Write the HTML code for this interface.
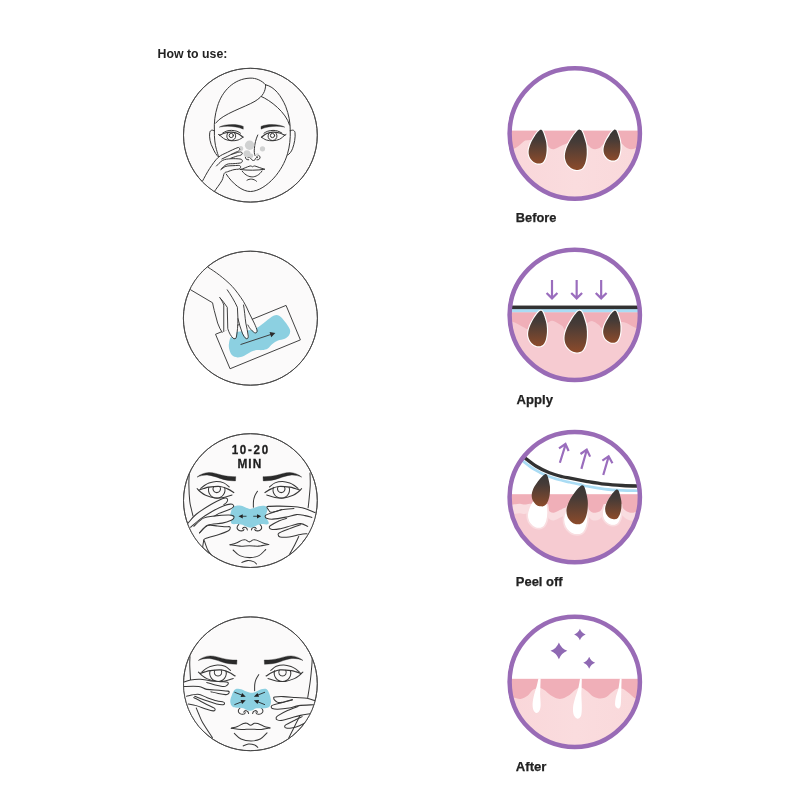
<!DOCTYPE html>
<html lang="en">
<head>
<meta charset="utf-8">
<title>How to use</title>
<style>
html,body{margin:0;padding:0;background:#fff;}
body{width:800px;height:800px;overflow:hidden;font-family:"Liberation Sans",sans-serif;}
svg{display:block;will-change:transform;}
.lbl{font-family:"Liberation Sans",sans-serif;font-weight:bold;font-size:13px;fill:#222;}
.lb2{font-size:13.5px;stroke:#222;stroke-width:0.25px;}
.ln{fill:none;stroke:#3a3a3a;stroke-width:5.5;stroke-linecap:round;stroke-linejoin:round;}
.lnf{fill:#fbfafa;stroke:#3a3a3a;stroke-width:5.5;stroke-linecap:round;stroke-linejoin:round;}
.l8{fill:none;stroke:#383838;stroke-width:8.2;stroke-linecap:round;stroke-linejoin:round;}
.blk{fill:#2b2b2b !important;stroke:none !important;}
.ring{fill:#fff;stroke:#9a6dbd;stroke-width:27;}
.pur{fill:none;stroke:#9a6dbd;stroke-width:9;stroke-linecap:butt;stroke-linejoin:miter;}
.pore{fill:url(#poreg);stroke:#fff;stroke-width:13;paint-order:stroke;stroke-linejoin:round;}
</style>
</head>
<body>
<svg width="800" height="800" viewBox="0 0 800 800">
<defs>
<linearGradient id="poreg" x1="0" y1="0" x2="0" y2="1">
<stop offset="0" stop-color="#373636"/>
<stop offset="0.3" stop-color="#453b37"/>
<stop offset="1" stop-color="#8c4b2b"/>
</linearGradient>
<linearGradient id="derm" x1="0" y1="0" x2="1" y2="0">
<stop offset="0" stop-color="#f9d6d9"/>
<stop offset="0.5" stop-color="#fadcde"/>
<stop offset="1" stop-color="#f9d8da"/>
</linearGradient>
<clipPath id="cR1"><circle cx="398.6" cy="397.1" r="372.3"/></clipPath>
<clipPath id="cR2"><circle cx="398.6" cy="399.4" r="372.3"/></clipPath>
<clipPath id="cR3"><circle cx="398.6" cy="400.6" r="372.3"/></clipPath>
<clipPath id="cR4"><circle cx="398.6" cy="399.4" r="372.3"/></clipPath>
<clipPath id="cL1"><circle cx="402.3" cy="401.1" r="382.3"/></clipPath>
<clipPath id="cL2"><circle cx="402.3" cy="401.1" r="382.9"/></clipPath>
<clipPath id="cL3"><circle cx="402.3" cy="403.4" r="382.3"/></clipPath>
<clipPath id="cL4"><circle cx="402.3" cy="398.9" r="382.3"/></clipPath>
<clipPath id="cL1r"><circle cx="250.40" cy="135.20" r="66.90"/></clipPath>
<clipPath id="cL3r"><circle cx="250.40" cy="500.60" r="66.90"/></clipPath>
<clipPath id="cL4r"><circle cx="250.40" cy="683.80" r="66.90"/></clipPath>
<clipPath id="belowskin"><rect x="-20" y="440" width="840" height="400"/></clipPath>
</defs>
<rect width="800" height="800" fill="#fff"/>

<text class="lbl" x="157.6" y="58.3" textLength="69.8" lengthAdjust="spacingAndGlyphs">How to use:</text>
<text class="lbl lb2" x="515.8" y="222.0" textLength="40.6" lengthAdjust="spacingAndGlyphs">Before</text>
<text class="lbl lb2" x="516.6" y="403.7" textLength="36.4" lengthAdjust="spacingAndGlyphs">Apply</text>
<text class="lbl lb2" x="515.8" y="585.6" textLength="46.8" lengthAdjust="spacingAndGlyphs">Peel off</text>
<text class="lbl lb2" x="515.8" y="770.6" textLength="30.6" lengthAdjust="spacingAndGlyphs">After</text>

<!-- ============ LEFT 1 ============ -->
<g id="L1" transform="translate(180,65) scale(0.175)">
<circle cx="402.3" cy="401.1" r="382.3" fill="#fbfafa" stroke="#484848" stroke-width="5.4"/>
</g>
<!--L1b:S-->
<g clip-path="url(#cL1r)">
<g transform="translate(200,60) scale(0.125)">
<path class="l8" style="stroke-width:8;stroke:#363636" d="M115,565 C112,500 118,440 140,370 C175,250 270,150 400,145 C450,143 495,165 525,198"/>
<path class="l8" style="stroke-width:8;stroke:#363636" d="M525,198 C525,250 505,290 440,330 C360,378 180,430 125,505"/>
<path class="l8" style="stroke-width:8;stroke:#363636" d="M525,198 C600,215 650,290 685,370 C712,440 722,500 722,565"/>
<path class="l8" style="stroke-width:8;stroke:#363636" d="M490,292 C560,320 690,420 716,520"/>
</g>
<g transform="translate(200,110) scale(0.125)">
<path class="l8" style="stroke-width:8;stroke:#363636" d="M115,165 C113,220 120,280 132,318 C138,340 144,360 149,372"/>
<path class="l8" style="stroke-width:8;stroke:#363636" d="M722,165 C724,230 718,290 700,350 C680,420 640,490 590,545 C540,600 470,650 405,652 C340,654 260,590 210,513"/>
<path class="l8" style="stroke-width:8;stroke:#363636" d="M115,168 C100,155 82,160 78,180 C72,215 82,270 103,305 C115,335 132,362 149,377"/>
<path class="l8" style="stroke-width:8;stroke:#363636" d="M722,168 C738,155 756,160 760,180 C765,215 755,270 740,310 C730,335 716,352 702,360"/>
<path class="blk" transform="translate(0,3)" style="stroke:#2b2b2b !important;stroke-width:3 !important;stroke-linejoin:round" d="M154,134 C195,110 290,104 346,128 L346,150 C290,126 210,122 154,134 Z"/>
<path class="blk" transform="translate(0,3)" style="stroke:#2b2b2b !important;stroke-width:3 !important;stroke-linejoin:round" d="M678,134 C637,110 545,104 488,128 L488,150 C545,126 622,122 678,134 Z"/>
<g transform="translate(0,6)">
<path class="l8" style="stroke-width:8;stroke:#363636;stroke-width:10" d="M158.0,196.0 C165.0,193.0 184.3,182.2 200.0,178.0 C215.7,173.8 234.5,170.0 252.0,171.0 C269.5,172.0 289.7,177.2 305.0,184.0 C320.3,190.8 337.5,207.3 344.0,212.0"/>
<path class="l8" style="stroke-width:8;stroke:#363636" d="M158.0,196.0 C165.0,201.3 184.3,220.7 200.0,228.0 C215.7,235.3 234.5,239.0 252.0,240.0 C269.5,241.0 289.7,238.7 305.0,234.0 C320.3,229.3 337.5,215.7 344.0,212.0"/>
<path class="l8" style="stroke-width:8;stroke:#363636" d="M182.0,178.0 C187.5,175.3 203.3,165.5 215.0,162.0 C226.7,158.5 238.7,156.7 252.0,157.0 C265.3,157.3 283.0,160.2 295.0,164.0 C307.0,167.8 319.2,177.3 324.0,180.0"/>
<path class="l8" style="stroke-width:8;stroke:#363636" d="M158.0,196.0 L148.0,190.0"/>
<path class="l8" style="stroke-width:8;stroke:#363636" d="M275,176 A36,36 0 1 1 225,176"/>
<circle class="l8" style="stroke-width:8;stroke:#363636" cx="250" cy="198" r="17"/>
<path class="l8" style="stroke-width:8;stroke:#363636;stroke-width:10" d="M678.0,196.0 C671.0,193.0 651.7,182.2 636.0,178.0 C620.3,173.8 601.5,170.0 584.0,171.0 C566.5,172.0 546.3,177.2 531.0,184.0 C515.7,190.8 498.5,207.3 492.0,212.0"/>
<path class="l8" style="stroke-width:8;stroke:#363636" d="M678.0,196.0 C671.0,201.3 651.7,220.7 636.0,228.0 C620.3,235.3 601.5,239.0 584.0,240.0 C566.5,241.0 546.3,238.7 531.0,234.0 C515.7,229.3 498.5,215.7 492.0,212.0"/>
<path class="l8" style="stroke-width:8;stroke:#363636" d="M654.0,178.0 C648.5,175.3 632.7,165.5 621.0,162.0 C609.3,158.5 597.3,156.7 584.0,157.0 C570.7,157.3 553.0,160.2 541.0,164.0 C529.0,167.8 516.8,177.3 512.0,180.0"/>
<path class="l8" style="stroke-width:8;stroke:#363636" d="M678.0,196.0 L688.0,190.0"/>
<path class="l8" style="stroke-width:8;stroke:#363636" d="M605,176 A36,36 0 1 1 555,176"/>
<circle class="l8" style="stroke-width:8;stroke:#363636" cx="580" cy="198" r="17"/>
</g>
<path class="l8" style="stroke-width:8;stroke:#363636" d="M462,200 C446,235 438,270 435,310 C433,335 434,350 440,364"/>
<path class="l8" style="stroke-width:8;stroke:#363636" d="M384.0,382.0 C384.7,380.0 389.0,373.0 388.0,370.0 C387.0,367.0 381.7,364.0 378.0,364.0 C374.3,364.0 368.3,366.7 366.0,370.0 C363.7,373.3 362.7,379.7 364.0,384.0 C365.3,388.3 369.7,393.7 374.0,396.0 C378.3,398.3 387.3,397.7 390.0,398.0"/>
<path class="l8" style="stroke-width:8;stroke:#363636" d="M396.0,380.0 C398.0,381.3 404.7,384.7 408.0,388.0 C411.3,391.3 412.7,397.3 416.0,400.0 C419.3,402.7 424.0,404.3 428.0,404.0 C432.0,403.7 437.0,401.0 440.0,398.0 C443.0,395.0 443.7,389.3 446.0,386.0 C448.3,382.7 452.7,379.3 454.0,378.0"/>
<path class="l8" style="stroke-width:8;stroke:#363636" d="M460.0,382.0 C459.3,380.0 455.0,373.0 456.0,370.0 C457.0,367.0 462.3,364.0 466.0,364.0 C469.7,364.0 475.7,366.7 478.0,370.0 C480.3,373.3 481.3,379.7 480.0,384.0 C478.7,388.3 474.0,393.7 470.0,396.0 C466.0,398.3 458.3,397.7 456.0,398.0"/>
<path class="l8" style="stroke-width:8;stroke:#363636" d="M322,476 C350,470 375,455 400,448 C410,446 414,452 420,454 C426,452 432,446 440,448 C465,455 490,468 516,474"/>
<path class="l8" style="stroke-width:8;stroke:#363636" d="M322,476 C380,484 460,484 516,474"/>
<path class="l8" style="stroke-width:8;stroke:#363636" d="M338,490 C365,525 395,535 418,535 C445,535 475,520 496,488"/>
<path class="l8" style="stroke-width:8;stroke:#363636" d="M376,562 C395,548 430,548 452,570"/>
</g>
<g transform="translate(200,110) scale(0.125)" fill="#d0d1d1"><circle cx="397" cy="282" r="38"/><circle cx="326" cy="308" r="20"/><circle cx="376" cy="350" r="28"/><circle cx="408" cy="366" r="18"/><circle cx="500" cy="310" r="21"/><circle cx="460" cy="356" r="11"/></g>
<g transform="translate(200,110) scale(0.125)">
<path style="fill:#fbfafa;stroke:none" d="M22,565 L77,468 L145,380 L220,338 L298,302 L314,305 L318,321 L337,341 L334,354 L310,372 L340,406 L331,422 L318,445 L324,458 L314,471 L272,477 L220,494 L194,507 L175,565 L116,650 L0,700 Z"/>
<path class="l8" style="stroke-width:8;stroke:#363636" d="M22.0,565.0 C31.2,548.8 56.5,498.8 77.0,468.0 C97.5,437.2 121.2,401.7 145.0,380.0 C168.8,358.3 194.8,350.8 220.0,338.0 C245.2,325.2 280.7,308.8 296.0,303.0 C311.3,297.2 308.3,300.8 312.0,303.0 C315.7,305.2 318.7,311.8 318.0,316.0 C317.3,320.2 313.5,324.3 308.0,328.0 C302.5,331.7 297.5,332.0 285.0,338.0 C272.5,344.0 251.3,355.0 233.0,364.0 C214.7,373.0 184.7,387.3 175.0,392.0"/>
<path class="l8" style="stroke-width:8;stroke:#363636" d="M250.0,356.0 C258.3,353.3 287.3,343.3 300.0,340.0 C312.7,336.7 319.7,335.3 326.0,336.0 C332.3,336.7 336.7,340.7 338.0,344.0 C339.3,347.3 337.3,352.7 334.0,356.0 C330.7,359.3 324.0,362.0 318.0,364.0 C312.0,366.0 310.0,364.3 298.0,368.0 C286.0,371.7 254.7,383.0 246.0,386.0"/>
<path class="l8" style="stroke-width:8;stroke:#363636" d="M132.0,448.0 C140.2,440.5 162.0,412.7 181.0,403.0 C200.0,393.3 222.8,391.8 246.0,390.0 C269.2,388.2 304.7,390.0 320.0,392.0 C335.3,394.0 335.3,398.0 338.0,402.0 C340.7,406.0 338.7,412.3 336.0,416.0 C333.3,419.7 332.7,421.8 322.0,424.0 C311.3,426.2 290.0,427.2 272.0,429.0 C254.0,430.8 231.3,427.5 214.0,435.0 C196.7,442.5 175.7,467.5 168.0,474.0"/>
<path class="l8" style="stroke-width:8;stroke:#363636" d="M168.0,477.0 C174.5,472.7 189.7,456.3 207.0,451.0 C224.3,445.7 254.2,446.2 272.0,445.0 C289.8,443.8 305.2,442.5 314.0,444.0 C322.8,445.5 324.0,450.0 325.0,454.0 C326.0,458.0 323.3,464.7 320.0,468.0 C316.7,471.3 313.0,472.5 305.0,474.0 C297.0,475.5 286.2,473.7 272.0,477.0 C257.8,480.3 233.0,489.0 220.0,494.0 C207.0,499.0 201.5,495.2 194.0,507.0 C186.5,518.8 188.0,541.2 175.0,565.0 C162.0,588.8 125.8,635.8 116.0,650.0"/>
</g>
</g>
<circle cx="250.4" cy="135.2" r="66.9" fill="none" stroke="#484848" stroke-width="0.95"/>
<!--L1b:E-->
<!-- ============ LEFT 2 ============ -->
<g id="L2" transform="translate(180,248) scale(0.175)">
<circle cx="402.3" cy="401.1" r="382.9" fill="#fbfafa" stroke="#484848" stroke-width="5.4"/>
<g clip-path="url(#cL2)">
<path d="M203,493 L606,328 L688,525 L286,690 Z" fill="#fbfafa" stroke="#3a3a3a" stroke-width="5.5" stroke-linejoin="miter"/>
<path fill="#8cd0e1" d="M437.9,457.8 C454.0,449.2 473.2,431.1 489.3,419.3 C505.4,407.5 521.4,392.5 534.3,387.1 C547.1,381.7 555.7,381.7 566.4,387.1 C577.1,392.5 588.4,406.4 598.6,419.3 C608.8,432.2 623.2,451.5 627.5,464.3 C631.8,477.1 629.1,487.3 624.3,496.4 C619.5,505.5 609.3,513.5 598.6,518.9 C587.9,524.3 571.8,523.8 560.0,528.6 C548.2,533.4 537.5,540.4 527.9,547.9 C518.2,555.4 511.8,567.7 502.1,573.6 C492.5,579.5 480.7,581.6 470.0,583.2 C459.3,584.8 448.6,581.6 437.9,583.2 C427.2,584.8 417.5,587.5 405.7,592.9 C393.9,598.3 380.0,610.0 367.1,615.4 C354.2,620.8 340.4,625.5 328.6,625.0 C316.8,624.5 304.4,620.7 296.4,612.1 C288.4,603.5 283.1,585.4 280.4,573.6 C277.7,561.8 278.8,552.1 280.4,541.4 C282.0,530.7 284.1,518.9 290.0,509.3 C295.9,499.7 298.6,490.0 315.7,483.6 C332.8,477.2 372.5,475.0 392.9,470.7 C413.3,466.4 421.8,466.4 437.9,457.8 Z"/>
<path class="ln" stroke-width="5" d="M348,551 L520,494"/>
<path class="blk" d="M545,485 L512,480 L521,510 Z"/>
<path fill="#fbfafa" stroke="none" d="M61,239 L186,313 L196,358 L215,429 L241,482 L250,476 L270,470 L300,515 L318,516 L331,420 L360,490 L380,519 L392,506 L384,440 L427,485 L440,477 L395,371 L363,306 L337,265 L241,165 L160,110 L40,180 Z"/>
<path class="ln" d="M160,110 C200,135 250,170 299,220 C320,243 345,278 363,306 C375,325 385,348 395,371 L424,429 C432,446 440,465 441,474 C441,484 432,488 426,484 C415,476 400,465 388,440"/>
<path class="ln" d="M61,239 L186,313 C190,330 192,345 196,358 C202,382 208,405 215,429 C222,450 232,468 241,482"/>
<path class="ln" d="M228,284 C238,298 246,312 250,326 L250,476"/>
<path class="ln" d="M228,284 C242,300 258,320 270,339 L273,461 C280,485 292,505 303,515 C310,521 320,520 322,510 C328,480 331,440 331,403 L328,339 C310,300 290,268 270,239"/>
<path class="ln" d="M331,403 C338,432 346,460 356,486 C362,500 370,514 378,518 C386,521 391,514 390,504 C387,478 381,452 376,429 C372,400 368,350 363,326"/>
</g>

<circle id="L2ring" cx="402.3" cy="401.1" r="382.9" fill="none" stroke="#484848" stroke-width="5.4"/>
</g>

<!-- ============ LEFT 3 ============ -->
<g id="L3" transform="translate(180,430) scale(0.175)">
<circle cx="402.3" cy="403.4" r="382.3" fill="#fbfafa" stroke="#484848" stroke-width="5.4"/>
<!--L3:S-->
</g>
<g clip-path="url(#cL3r)">
<g transform="translate(180,450) scale(0.125)">
<path class="l8"  d="M74.0,185.0 C73.5,200.8 70.3,242.5 71.0,280.0 C71.7,317.5 74.8,378.3 78.0,410.0 C81.2,441.7 85.7,450.5 90.0,470.0 C94.3,489.5 101.7,517.5 104.0,527.0"/>
<path class="l8"  d="M190.0,712.0 C195.3,726.7 210.0,776.0 222.0,800.0 C234.0,824.0 255.3,846.7 262.0,856.0"/>
<path class="l8"  d="M1040.0,185.0 C1040.3,200.8 1043.3,244.2 1042.0,280.0 C1040.7,315.8 1034.8,369.7 1032.0,400.0 C1029.2,430.3 1026.2,451.7 1025.0,462.0"/>
<path class="blk" style="stroke:#2b2b2b !important;stroke-width:3 !important;stroke-linejoin:round" d="M136,217 C160,196 195,181 232,180 C270,180 300,192 330,200 C370,210 410,214 446,213 L444,247 C405,247 360,241 320,227 C285,214 255,204 225,201 C190,199 160,206 136,217 Z"/>
<g transform="translate(1110,0) scale(-1,1)"><path class="blk" style="stroke:#2b2b2b !important;stroke-width:3 !important;stroke-linejoin:round" d="M136,217 C160,196 195,181 232,180 C270,180 300,192 330,200 C370,210 410,214 446,213 L444,247 C405,247 360,241 320,227 C285,214 255,204 225,201 C190,199 160,206 136,217 Z"/></g>
<path class="l8" d="M166.0,308.0 C170.8,304.0 184.0,291.3 195.0,284.0 C206.0,276.7 216.2,269.3 232.0,264.0 C247.8,258.7 270.3,252.2 290.0,252.0 C309.7,251.8 332.7,255.7 350.0,263.0 C367.3,270.3 386.7,290.5 394.0,296.0"/>
<path class="l8" style="stroke-width:10" d="M152.0,320.0 C158.3,318.0 176.7,311.8 190.0,308.0 C203.3,304.2 210.3,299.7 232.0,297.0 C253.7,294.3 295.3,289.7 320.0,292.0 C344.7,294.3 361.7,303.0 380.0,311.0 C398.3,319.0 421.7,335.2 430.0,340.0"/>
<path class="l8" d="M137.0,309.0 C141.7,313.5 153.7,327.2 165.0,336.0 C176.3,344.8 186.2,354.0 205.0,362.0 C223.8,370.0 253.8,381.0 278.0,384.0 C302.2,387.0 327.0,384.0 350.0,380.0 C373.0,376.0 405.0,363.3 416.0,360.0"/>
<path class="l8" d="M231,299 A66,66 0 1 0 357,299"/>
<path class="l8" d="M268,296 A30,30 0 1 0 320,296"/>
<path class="l8" d="M944.0,308.0 C939.2,304.0 926.0,291.3 915.0,284.0 C904.0,276.7 893.8,269.3 878.0,264.0 C862.2,258.7 839.7,252.2 820.0,252.0 C800.3,251.8 777.3,255.7 760.0,263.0 C742.7,270.3 723.3,290.5 716.0,296.0"/>
<path class="l8" style="stroke-width:10" d="M958.0,320.0 C951.7,318.0 933.3,311.8 920.0,308.0 C906.7,304.2 899.7,299.7 878.0,297.0 C856.3,294.3 814.7,289.7 790.0,292.0 C765.3,294.3 748.3,303.0 730.0,311.0 C711.7,319.0 688.3,335.2 680.0,340.0"/>
<path class="l8" d="M973.0,309.0 C968.3,313.5 956.3,327.2 945.0,336.0 C933.7,344.8 923.8,354.0 905.0,362.0 C886.2,370.0 856.2,381.0 832.0,384.0 C807.8,387.0 783.0,384.0 760.0,380.0 C737.0,376.0 705.0,363.3 694.0,360.0"/>
<path class="l8" d="M747,299 A66,66 0 1 0 873,299"/>
<path class="l8" d="M784,296 A30,30 0 1 0 836,296"/>
<path class="l8"  d="M620.0,330.0 C616.3,336.3 603.3,355.0 598.0,368.0 C592.7,381.0 589.8,393.0 588.0,408.0 C586.2,423.0 587.2,449.7 587.0,458.0"/>
<path class="l8"  d="M470.0,596.0 C468.2,598.5 461.1,605.7 459.0,611.0 C456.9,616.3 455.7,622.8 457.5,628.0 C459.3,633.2 464.6,638.8 470.0,642.0 C475.4,645.2 484.0,646.7 490.0,647.0 C496.0,647.3 502.3,646.2 506.0,644.0 C509.7,641.8 511.0,635.7 512.0,634.0"/>
<path class="l8"  d="M500.0,630.0 C501.2,628.4 504.2,622.5 507.5,620.5 C510.8,618.5 515.8,617.2 520.0,618.0 C524.2,618.8 529.3,621.8 532.5,625.5 C535.7,629.2 537.9,638.0 539.0,640.5"/>
<path class="l8"  d="M640.0,596.0 C641.8,598.5 648.9,605.7 651.0,611.0 C653.1,616.3 654.3,622.8 652.5,628.0 C650.7,633.2 645.4,638.8 640.0,642.0 C634.6,645.2 626.0,646.7 620.0,647.0 C614.0,647.3 607.7,646.2 604.0,644.0 C600.3,641.8 599.0,635.7 598.0,634.0"/>
<path class="l8"  d="M610.0,630.0 C608.8,628.4 605.8,622.5 602.5,620.5 C599.2,618.5 594.2,617.2 590.0,618.0 C585.8,618.8 580.7,621.8 577.5,625.5 C574.3,629.2 572.1,638.0 571.0,640.5"/>
<path class="l8"  d="M400.0,758.0 C408.3,755.7 433.8,750.2 450.0,744.0 C466.2,737.8 484.5,725.2 497.0,721.0 C509.5,716.8 515.3,716.7 525.0,719.0 C534.7,721.3 545.0,735.0 555.0,735.0 C565.0,735.0 575.3,721.3 585.0,719.0 C594.7,716.7 600.5,717.2 613.0,721.0 C625.5,724.8 643.8,736.2 660.0,742.0 C676.2,747.8 701.7,753.7 710.0,756.0"/>
<path class="l8"  d="M400.0,758.0 C413.3,759.8 454.2,767.7 480.0,769.0 C505.8,770.3 530.0,766.0 555.0,766.0 C580.0,766.0 604.2,770.7 630.0,769.0 C655.8,767.3 696.7,758.2 710.0,756.0"/>
<path class="l8"  d="M425.0,800.0 C433.8,807.5 455.8,834.8 478.0,845.0 C500.2,855.2 532.3,861.0 558.0,861.0 C583.7,861.0 610.7,855.8 632.0,845.0 C653.3,834.2 677.0,804.2 686.0,796.0"/>
<path class="l8"  d="M495.0,900.0 C502.2,897.5 522.5,886.2 538.0,885.0 C553.5,883.8 575.7,888.5 588.0,893.0 C600.3,897.5 608.0,908.8 612.0,912.0"/>
<path fill="#8cd0e1" d="M450.0,445.0 C460.8,443.5 477.5,443.5 490.0,446.0 C502.5,448.5 513.3,455.8 525.0,460.0 C536.7,464.2 548.3,470.6 560.0,471.0 C571.7,471.4 583.3,466.0 595.0,462.5 C606.7,459.0 618.3,452.8 630.0,450.0 C641.7,447.2 655.0,445.6 665.0,446.0 C675.0,446.4 684.2,447.7 690.0,452.5 C695.8,457.3 700.0,465.4 700.0,475.0 C700.0,484.6 692.5,500.0 690.0,510.0 C687.5,520.0 683.3,526.7 685.0,535.0 C686.7,543.3 695.8,551.7 700.0,560.0 C704.2,568.3 710.8,579.2 710.0,585.0 C709.2,590.8 703.3,593.8 695.0,595.0 C686.7,596.2 672.5,591.7 660.0,592.5 C647.5,593.3 631.7,596.2 620.0,600.0 C608.3,603.8 600.0,611.5 590.0,615.0 C580.0,618.5 570.0,621.4 560.0,621.0 C550.0,620.6 540.0,616.4 530.0,612.5 C520.0,608.6 511.7,600.8 500.0,597.5 C488.3,594.2 473.3,593.3 460.0,592.5 C446.7,591.7 428.8,595.4 420.0,592.5 C411.2,589.6 409.2,582.1 407.5,575.0 C405.8,567.9 410.8,559.2 410.0,550.0 C409.2,540.8 402.5,530.8 402.5,520.0 C402.5,509.2 406.2,495.8 410.0,485.0 C413.8,474.2 418.3,461.7 425.0,455.0 C431.7,448.3 439.2,446.5 450.0,445.0 Z"/>
<path d="M532.0,530.0 L498.0,530.0" stroke="#222" stroke-width="6.5" fill="none"/><path fill="#222" d="M468.0,530.0 L502.0,513.0 L502.0,547.0 Z"/>
<path d="M586.0,530.0 L620.0,530.0" stroke="#222" stroke-width="6.5" fill="none"/><path fill="#222" d="M650.0,530.0 L616.0,547.0 L616.0,513.0 Z"/>
<path style="fill:#fbfafa;stroke:none" d="M62,585 L130,514 L247,436 L338,387 L374,387 L380,410 L364,430 L403,433 L426,442 L422,459 L395,478 L390,520 L432,537 L416,560 L364,590 L400,618 L390,644 L312,676 L201,709 L188,735 L175,800 L100,800 L20,600 Z"/>
<path class="l8"  d="M66.0,583.0 C76.7,571.5 99.8,538.5 130.0,514.0 C160.2,489.5 212.3,456.7 247.0,436.0 C281.7,415.3 317.8,398.7 338.0,390.0 C358.2,381.3 360.8,382.7 368.0,384.0 C375.2,385.3 380.3,392.0 381.0,398.0 C381.7,404.0 377.0,413.7 372.0,420.0 C367.0,426.3 354.5,433.3 351.0,436.0"/>
<path class="l8"  d="M85.0,618.0 C97.8,607.2 132.8,574.3 162.0,553.0 C191.2,531.7 228.5,507.8 260.0,490.0 C291.5,472.2 327.2,455.5 351.0,446.0 C374.8,436.5 390.5,434.0 403.0,433.0 C415.5,432.0 422.2,436.2 426.0,440.0 C429.8,443.8 431.2,450.0 426.0,456.0 C420.8,462.0 414.0,467.5 395.0,476.0 C376.0,484.5 331.2,498.5 312.0,507.0 C292.8,515.5 285.3,523.7 280.0,527.0"/>
<path class="l8"  d="M110.0,610.0 C123.0,599.2 159.7,558.8 188.0,545.0 C216.3,531.2 246.3,531.2 280.0,527.0 C313.7,522.8 365.3,519.8 390.0,520.0 C414.7,520.2 421.3,523.7 428.0,528.0 C434.7,532.3 433.0,540.3 430.0,546.0 C427.0,551.7 425.3,555.5 410.0,562.0 C394.7,568.5 369.5,578.3 338.0,585.0 C306.5,591.7 251.3,589.0 221.0,602.0 C190.7,615.0 166.8,652.8 156.0,663.0"/>
<path class="l8"  d="M156.0,663.0 C166.8,653.3 197.0,614.2 221.0,605.0 C245.0,595.8 276.2,606.5 300.0,608.0 C323.8,609.5 347.7,613.0 364.0,614.0 C380.3,615.0 392.0,611.0 398.0,614.0 C404.0,617.0 402.3,626.3 400.0,632.0 C397.7,637.7 398.7,640.7 384.0,648.0 C369.3,655.3 342.5,665.8 312.0,676.0 C281.5,686.2 221.7,699.2 201.0,709.0 C180.3,718.8 191.8,719.8 188.0,735.0 C184.2,750.2 179.7,789.2 178.0,800.0"/>
<path style="fill:#fbfafa;stroke:none" d="M697,462 L704,452 L795,450 L892,452 L977,462 L1081,501 L1100,700 L957,696 L912,800 L880,800 L873,696 L801,696 L785,676 L795,663 L730,634 L714,618 L723,605 L760,585 L691,546 L681,530 L688,520 L730,500 L707,475 Z"/>
<path class="l8"  d="M814.0,476.0 C800.0,479.7 747.8,498.0 730.0,498.0 C712.2,498.0 712.5,482.0 707.0,476.0 C701.5,470.0 697.2,466.2 697.0,462.0 C696.8,457.8 689.7,453.2 706.0,451.0 C722.3,448.8 764.0,448.8 795.0,449.0 C826.0,449.2 861.7,449.8 892.0,452.0 C922.3,454.2 952.3,456.7 977.0,462.0 C1001.7,467.3 1022.7,477.5 1040.0,484.0 C1057.3,490.5 1074.2,498.2 1081.0,501.0"/>
<path class="l8"  d="M912.0,468.0 C895.7,469.7 844.3,472.0 814.0,478.0 C783.7,484.0 750.7,497.2 730.0,504.0 C709.3,510.8 698.2,514.5 690.0,519.0 C681.8,523.5 680.7,526.5 681.0,531.0 C681.3,535.5 681.7,542.3 692.0,546.0 C702.3,549.7 717.2,554.5 743.0,553.0 C768.8,551.5 815.7,543.0 847.0,537.0 C878.3,531.0 905.5,519.0 931.0,517.0 C956.5,515.0 979.3,521.2 1000.0,525.0 C1020.7,528.8 1045.8,537.5 1055.0,540.0"/>
<path class="l8"  d="M853.0,546.0 C843.3,549.3 816.3,556.3 795.0,566.0 C773.7,575.7 738.5,595.3 725.0,604.0 C711.5,612.7 713.2,613.0 714.0,618.0 C714.8,623.0 716.5,631.8 730.0,634.0 C743.5,636.2 768.0,635.8 795.0,631.0 C822.0,626.2 863.8,612.0 892.0,605.0 C920.2,598.0 942.3,588.0 964.0,589.0 C985.7,590.0 1012.3,607.3 1022.0,611.0"/>
<path class="l8"  d="M964.0,598.0 C948.8,603.5 900.8,620.3 873.0,631.0 C845.2,641.7 811.7,654.5 797.0,662.0 C782.3,669.5 784.3,670.3 785.0,676.0 C785.7,681.7 786.3,692.7 801.0,696.0 C815.7,699.3 845.8,699.3 873.0,696.0 C900.2,692.7 940.2,680.3 964.0,676.0 C987.8,671.7 1007.3,671.0 1016.0,670.0"/>
<path class="l8"  d="M950.0,692.0 C943.7,705.0 925.0,745.0 912.0,770.0 C899.0,795.0 878.7,830.0 872.0,842.0"/>
</g>
<text transform="translate(231.7,454.2) scale(0.9,1)" x="0" y="0" textLength="40.6" lengthAdjust="spacing" style="font:bold 12.9px 'Liberation Sans',sans-serif;fill:#1e1e1e;stroke:#1e1e1e;stroke-width:0.3px">10-20</text>
<text transform="translate(237.4,468.4) scale(0.9,1)" x="0" y="0" textLength="26.6" lengthAdjust="spacing" style="font:bold 13.2px 'Liberation Sans',sans-serif;fill:#1e1e1e;stroke:#1e1e1e;stroke-width:0.3px">MIN</text>
</g>
<circle cx="250.4" cy="500.6" r="66.9" fill="none" stroke="#484848" stroke-width="0.95"/>
<g>
<!--L3:E-->
</g>

<!-- ============ LEFT 4 ============ -->
<g id="L4" transform="translate(180,614) scale(0.175)">
<circle cx="402.3" cy="398.9" r="382.3" fill="#fbfafa" stroke="#484848" stroke-width="5.4"/>
<!--L4:S-->
</g>
<g clip-path="url(#cL4r)">
<g transform="translate(181.25,633.4) scale(0.125)">
<path class="l8"  d="M70.0,185.0 C69.7,196.3 67.3,222.2 68.0,253.0 C68.7,283.8 73.0,350.5 74.0,370.0"/>
<path class="l8"  d="M1048.0,185.0 C1047.5,196.3 1047.7,220.0 1045.0,253.0 C1042.3,286.0 1037.5,339.7 1032.0,383.0 C1026.5,426.3 1015.3,491.3 1012.0,513.0"/>
<path class="blk" style="stroke:#2b2b2b !important;stroke-width:3 !important;stroke-linejoin:round" d="M136,217 C160,196 195,181 232,180 C270,180 300,192 330,200 C370,210 410,214 446,213 L444,247 C405,247 360,241 320,227 C285,214 255,204 225,201 C190,199 160,206 136,217 Z"/>
<g transform="translate(1110,0) scale(-1,1)"><path class="blk" style="stroke:#2b2b2b !important;stroke-width:3 !important;stroke-linejoin:round" d="M136,217 C160,196 195,181 232,180 C270,180 300,192 330,200 C370,210 410,214 446,213 L444,247 C405,247 360,241 320,227 C285,214 255,204 225,201 C190,199 160,206 136,217 Z"/></g>
<path class="l8" d="M166.0,308.0 C170.8,304.0 184.0,291.3 195.0,284.0 C206.0,276.7 216.2,269.3 232.0,264.0 C247.8,258.7 270.3,252.2 290.0,252.0 C309.7,251.8 332.7,255.7 350.0,263.0 C367.3,270.3 386.7,290.5 394.0,296.0"/>
<path class="l8" style="stroke-width:10" d="M152.0,320.0 C158.3,318.0 176.7,311.8 190.0,308.0 C203.3,304.2 210.3,299.7 232.0,297.0 C253.7,294.3 295.3,289.7 320.0,292.0 C344.7,294.3 361.7,303.0 380.0,311.0 C398.3,319.0 421.7,335.2 430.0,340.0"/>
<path class="l8" d="M137.0,309.0 C141.7,313.5 153.7,327.2 165.0,336.0 C176.3,344.8 186.2,354.0 205.0,362.0 C223.8,370.0 253.8,381.0 278.0,384.0 C302.2,387.0 327.0,384.0 350.0,380.0 C373.0,376.0 405.0,363.3 416.0,360.0"/>
<path class="l8" d="M231,299 A66,66 0 1 0 357,299"/>
<path class="l8" d="M268,296 A30,30 0 1 0 320,296"/>
<path class="l8" d="M944.0,308.0 C939.2,304.0 926.0,291.3 915.0,284.0 C904.0,276.7 893.8,269.3 878.0,264.0 C862.2,258.7 839.7,252.2 820.0,252.0 C800.3,251.8 777.3,255.7 760.0,263.0 C742.7,270.3 723.3,290.5 716.0,296.0"/>
<path class="l8" style="stroke-width:10" d="M958.0,320.0 C951.7,318.0 933.3,311.8 920.0,308.0 C906.7,304.2 899.7,299.7 878.0,297.0 C856.3,294.3 814.7,289.7 790.0,292.0 C765.3,294.3 748.3,303.0 730.0,311.0 C711.7,319.0 688.3,335.2 680.0,340.0"/>
<path class="l8" d="M973.0,309.0 C968.3,313.5 956.3,327.2 945.0,336.0 C933.7,344.8 923.8,354.0 905.0,362.0 C886.2,370.0 856.2,381.0 832.0,384.0 C807.8,387.0 783.0,384.0 760.0,380.0 C737.0,376.0 705.0,363.3 694.0,360.0"/>
<path class="l8" d="M747,299 A66,66 0 1 0 873,299"/>
<path class="l8" d="M784,296 A30,30 0 1 0 836,296"/>
<path class="l8"  d="M620.0,330.0 C616.3,336.3 603.3,355.0 598.0,368.0 C592.7,381.0 589.8,393.0 588.0,408.0 C586.2,423.0 587.2,449.7 587.0,458.0"/>
<path class="l8"  d="M470.0,596.0 C468.2,598.5 461.1,605.7 459.0,611.0 C456.9,616.3 455.7,622.8 457.5,628.0 C459.3,633.2 464.6,638.8 470.0,642.0 C475.4,645.2 484.0,646.7 490.0,647.0 C496.0,647.3 502.3,646.2 506.0,644.0 C509.7,641.8 511.0,635.7 512.0,634.0"/>
<path class="l8"  d="M500.0,630.0 C501.2,628.4 504.2,622.5 507.5,620.5 C510.8,618.5 515.8,617.2 520.0,618.0 C524.2,618.8 529.3,621.8 532.5,625.5 C535.7,629.2 537.9,638.0 539.0,640.5"/>
<path class="l8"  d="M640.0,596.0 C641.8,598.5 648.9,605.7 651.0,611.0 C653.1,616.3 654.3,622.8 652.5,628.0 C650.7,633.2 645.4,638.8 640.0,642.0 C634.6,645.2 626.0,646.7 620.0,647.0 C614.0,647.3 607.7,646.2 604.0,644.0 C600.3,641.8 599.0,635.7 598.0,634.0"/>
<path class="l8"  d="M610.0,630.0 C608.8,628.4 605.8,622.5 602.5,620.5 C599.2,618.5 594.2,617.2 590.0,618.0 C585.8,618.8 580.7,621.8 577.5,625.5 C574.3,629.2 572.1,638.0 571.0,640.5"/>
<path class="l8"  d="M400.0,758.0 C408.3,755.7 433.8,750.2 450.0,744.0 C466.2,737.8 484.5,725.2 497.0,721.0 C509.5,716.8 515.3,716.7 525.0,719.0 C534.7,721.3 545.0,735.0 555.0,735.0 C565.0,735.0 575.3,721.3 585.0,719.0 C594.7,716.7 600.5,717.2 613.0,721.0 C625.5,724.8 643.8,736.2 660.0,742.0 C676.2,747.8 701.7,753.7 710.0,756.0"/>
<path class="l8"  d="M400.0,758.0 C413.3,759.8 454.2,767.7 480.0,769.0 C505.8,770.3 530.0,766.0 555.0,766.0 C580.0,766.0 604.2,770.7 630.0,769.0 C655.8,767.3 696.7,758.2 710.0,756.0"/>
<path class="l8"  d="M425.0,800.0 C433.8,807.5 455.8,834.8 478.0,845.0 C500.2,855.2 532.3,861.0 558.0,861.0 C583.7,861.0 610.7,855.8 632.0,845.0 C653.3,834.2 677.0,804.2 686.0,796.0"/>
<path class="l8"  d="M495.0,900.0 C502.2,897.5 522.5,886.2 538.0,885.0 C553.5,883.8 575.7,888.5 588.0,893.0 C600.3,897.5 608.0,908.8 612.0,912.0"/>
</g>
<g transform="translate(180,634) scale(0.125)">
<path fill="#8cd0e1" d="M435.0,448.0 C427.5,456.3 420.5,473.8 415.0,488.0 C409.5,502.2 403.2,520.0 402.0,533.0 C400.8,546.0 403.7,557.3 408.0,566.0 C412.3,574.7 419.3,581.2 428.0,585.0 C436.7,588.8 447.2,587.7 460.0,589.0 C472.8,590.3 493.3,590.3 505.0,593.0 C516.7,595.7 520.8,601.7 530.0,605.0 C539.2,608.3 550.8,612.7 560.0,613.0 C569.2,613.3 576.7,610.2 585.0,607.0 C593.3,603.8 597.5,596.0 610.0,594.0 C622.5,592.0 645.0,595.7 660.0,595.0 C675.0,594.3 690.0,593.7 700.0,590.0 C710.0,586.3 715.3,581.7 720.0,573.0 C724.7,564.3 728.3,552.2 728.0,538.0 C727.7,523.8 722.7,503.0 718.0,488.0 C713.3,473.0 706.3,456.3 700.0,448.0 C693.7,439.7 688.3,439.0 680.0,438.0 C671.7,437.0 660.0,439.0 650.0,442.0 C640.0,445.0 630.0,451.7 620.0,456.0 C610.0,460.3 600.8,466.0 590.0,468.0 C579.2,470.0 566.7,470.0 555.0,468.0 C543.3,466.0 530.8,460.3 520.0,456.0 C509.2,451.7 500.0,445.0 490.0,442.0 C480.0,439.0 469.2,437.0 460.0,438.0 C450.8,439.0 442.5,439.7 435.0,448.0 Z"/>
<path d="M435.0,465.5 L494.3,488.6" stroke="#222" stroke-width="7" fill="none"/><path fill="#222" d="M526.0,501.0 L484.4,503.0 L496.8,471.4 Z"/>
<path d="M435.0,565.5 L494.3,542.4" stroke="#222" stroke-width="7" fill="none"/><path fill="#222" d="M526.0,530.0 L496.8,559.6 L484.4,528.0 Z"/>
<path d="M680.0,465.5 L622.6,488.4" stroke="#222" stroke-width="7" fill="none"/><path fill="#222" d="M591.0,501.0 L620.0,471.1 L632.6,502.7 Z"/>
<path d="M680.0,565.5 L622.6,542.6" stroke="#222" stroke-width="7" fill="none"/><path fill="#222" d="M591.0,530.0 L632.6,528.3 L620.0,559.9 Z"/>
<path style="fill:#fbfafa;stroke:none" d="M20,384 L84,368 L162,362 L247,375 L338,381 L384,388 L380,407 L351,420 L390,459 L390,476 L364,485 L330,500 L354,547 L344,566 L292,560 L280,599 L266,615 L214,602 L150,670 L195,768 L100,800 L0,600 Z"/>
<path class="l8"  d="M20.0,388.0 C30.7,384.7 60.3,372.3 84.0,368.0 C107.7,363.7 134.8,360.8 162.0,362.0 C189.2,363.2 217.7,371.8 247.0,375.0 C276.3,378.2 315.8,379.2 338.0,381.0 C360.2,382.8 372.0,383.2 380.0,386.0 C388.0,388.8 386.7,394.0 386.0,398.0 C385.3,402.0 381.8,406.3 376.0,410.0 C370.2,413.7 365.0,420.0 351.0,420.0 C337.0,420.0 314.8,415.3 292.0,410.0 C269.2,404.7 227.0,391.7 214.0,388.0"/>
<path class="l8"  d="M20.0,420.0 C41.7,420.0 117.7,416.2 150.0,420.0 C182.3,423.8 187.0,438.0 214.0,443.0 C241.0,448.0 283.7,447.7 312.0,450.0 C340.3,452.3 370.5,454.2 384.0,457.0 C397.5,459.8 393.0,463.2 393.0,467.0 C393.0,470.8 388.8,477.0 384.0,480.0 C379.2,483.0 377.0,485.7 364.0,485.0 C351.0,484.3 325.5,479.8 306.0,476.0 C286.5,472.2 256.8,464.3 247.0,462.0"/>
<path class="l8"  d="M52.0,498.0 C67.2,495.3 116.0,480.3 143.0,482.0 C170.0,483.7 189.2,499.3 214.0,508.0 C238.8,516.7 269.7,527.8 292.0,534.0 C314.3,540.2 337.3,541.3 348.0,545.0 C358.7,548.7 356.7,552.5 356.0,556.0 C355.3,559.5 354.7,565.3 344.0,566.0 C333.3,566.7 313.7,565.3 292.0,560.0 C270.3,554.7 243.2,544.3 214.0,534.0 C184.8,523.7 133.2,504.0 117.0,498.0"/>
<path class="l8"  d="M110.0,508.0 C124.2,515.7 170.0,541.0 195.0,554.0 C220.0,567.0 246.2,579.0 260.0,586.0 C273.8,593.0 274.7,592.3 278.0,596.0 C281.3,599.7 282.0,604.8 280.0,608.0 C278.0,611.2 277.0,616.0 266.0,615.0 C255.0,614.0 236.7,609.0 214.0,602.0 C191.3,595.0 154.8,580.0 130.0,573.0 C105.2,566.0 75.8,562.2 65.0,560.0"/>
<path class="l8"  d="M130.0,592.0 C133.3,600.0 141.3,620.3 150.0,640.0 C158.7,659.7 163.8,678.5 182.0,710.0 C200.2,741.5 246.2,809.2 259.0,829.0"/>
<path style="fill:#fbfafa;stroke:none" d="M750,514 L756,505 L828,501 L925,508 L1016,514 L1100,534 L1100,700 L1016,703 L951,736 L892,752 L847,752 L837,739 L847,726 L821,690 L776,687 L769,670 L782,654 L800,610 L736,596 L730,580 L740,570 L790,552 L753,524 Z"/>
<path class="l8"  d="M899.0,524.0 C884.8,527.8 833.5,543.2 814.0,547.0 C794.5,550.8 791.8,550.3 782.0,547.0 C772.2,543.7 760.3,532.5 755.0,527.0 C749.7,521.5 749.5,517.8 750.0,514.0 C750.5,510.2 745.0,506.2 758.0,504.0 C771.0,501.8 800.2,500.3 828.0,501.0 C855.8,501.7 893.7,505.8 925.0,508.0 C956.3,510.2 990.0,509.7 1016.0,514.0 C1042.0,518.3 1070.2,530.7 1081.0,534.0"/>
<path class="l8"  d="M899.0,528.0 C884.8,531.7 840.2,543.2 814.0,550.0 C787.8,556.8 756.0,563.8 742.0,569.0 C728.0,574.2 730.7,576.5 730.0,581.0 C729.3,585.5 729.3,592.5 738.0,596.0 C746.7,599.5 759.5,602.7 782.0,602.0 C804.5,601.3 844.8,596.8 873.0,592.0 C901.2,587.2 918.5,577.3 951.0,573.0 C983.5,568.7 1048.5,567.2 1068.0,566.0"/>
<path class="l8"  d="M944.0,580.0 C930.0,585.3 886.7,599.8 860.0,612.0 C833.3,624.2 799.2,643.3 784.0,653.0 C768.8,662.7 770.0,664.3 769.0,670.0 C768.0,675.7 769.3,683.7 778.0,687.0 C786.7,690.3 802.0,692.8 821.0,690.0 C840.0,687.2 868.2,676.5 892.0,670.0 C915.8,663.5 939.0,656.3 964.0,651.0 C989.0,645.7 1029.0,640.2 1042.0,638.0"/>
<path class="l8"  d="M977.0,661.0 C965.0,666.8 926.3,685.3 905.0,696.0 C883.7,706.7 860.3,717.8 849.0,725.0 C837.7,732.2 837.0,734.5 837.0,739.0 C837.0,743.5 839.8,749.8 849.0,752.0 C858.2,754.2 875.0,754.7 892.0,752.0 C909.0,749.3 930.3,744.2 951.0,736.0 C971.7,727.8 1005.2,708.5 1016.0,703.0"/>
<path class="l8"  d="M964.0,652.0 C962.0,654.7 963.3,646.7 952.0,668.0 C940.7,689.3 911.2,749.7 896.0,780.0 C880.8,810.3 866.8,838.3 861.0,850.0"/>
</g>
</g>
<circle cx="250.4" cy="683.8" r="66.9" fill="none" stroke="#484848" stroke-width="0.95"/>
<g>
<!--L4:E-->
</g>

<!-- ============ RIGHT 1 ============ -->
<g id="R1" transform="translate(505,64) scale(0.175)">
<circle cx="398.6" cy="397.1" r="372.3" fill="#fff"/>
<g clip-path="url(#cR1)">
<!--R1:S-->
<rect x="-20" y="380.6" width="840" height="460" fill="#f0afb8"/>
<path fill="url(#derm)" d="M-20.0,492.0 C-11.7,491.7 16.7,492.0 30.0,490.0 C43.3,488.0 50.7,484.8 60.0,480.0 C69.3,475.2 77.2,467.7 85.7,461.0 C94.2,454.3 103.1,444.2 111.0,440.0 C118.9,435.8 120.7,437.0 133.0,436.0 C145.3,435.0 169.7,432.3 185.0,434.0 C200.3,435.7 215.8,441.5 225.0,446.0 C234.2,450.5 234.7,455.2 240.0,461.0 C245.3,466.8 251.2,476.7 257.0,481.0 C262.8,485.3 269.3,486.7 275.0,487.0 C280.7,487.3 284.0,485.8 291.0,483.0 C298.0,480.2 308.3,474.2 317.0,470.0 C325.7,465.8 329.2,463.0 343.0,458.0 C356.8,453.0 381.3,441.0 400.0,440.0 C418.7,439.0 442.2,447.7 455.0,452.0 C467.8,456.3 470.5,461.0 477.0,466.0 C483.5,471.0 487.5,478.5 494.0,482.0 C500.5,485.5 508.3,487.3 516.0,487.0 C523.7,486.7 532.8,484.3 540.0,480.0 C547.2,475.7 551.5,467.0 559.0,461.0 C566.5,455.0 574.8,448.2 585.0,444.0 C595.2,439.8 609.2,436.3 620.0,436.0 C630.8,435.7 642.0,438.8 650.0,442.0 C658.0,445.2 661.3,449.5 668.0,455.0 C674.7,460.5 681.7,469.7 690.0,475.0 C698.3,480.3 708.8,485.8 718.0,487.0 C727.2,488.2 735.5,485.5 745.0,482.0 C754.5,478.5 762.5,470.5 775.0,466.0 C787.5,461.5 812.5,456.8 820.0,455.0 L820,820 L-20,820 Z"/>
<path class="pore" d="M204.7,375.7 C206.9,375.8 209.4,376.5 211.4,378.4 C213.3,380.3 214.5,382.7 216.5,387.3 C218.6,391.8 220.5,395.6 223.7,405.8 C226.9,416.0 233.2,434.4 235.6,448.7 C237.9,462.9 238.4,477.9 237.9,491.5 C237.4,505.1 235.4,519.2 232.5,530.1 C229.5,541.0 224.6,550.9 220.1,557.1 C215.7,563.3 210.2,565.2 205.7,567.2 C201.2,569.1 197.3,568.7 192.8,568.7 C188.4,568.7 184.3,569.1 178.9,567.2 C173.5,565.2 166.6,562.7 160.4,557.1 C154.2,551.6 146.1,543.5 141.8,534.0 C137.6,524.4 134.3,512.9 134.9,500.0 C135.5,487.1 139.6,471.7 145.7,456.8 C151.7,441.8 164.1,421.8 171.4,410.1 C178.7,398.3 184.8,391.7 189.2,386.3 C193.6,381.0 195.4,379.8 198.0,378.0 C200.5,376.2 202.4,375.6 204.7,375.7 Z"/>
<path class="pore" d="M426.8,375.0 C429.5,375.1 432.5,375.9 434.9,378.2 C437.3,380.5 438.6,383.4 441.1,388.8 C443.6,394.2 446.0,398.7 449.9,410.9 C453.7,423.1 461.4,444.9 464.2,461.9 C467.1,479.0 467.7,496.8 467.1,513.0 C466.4,529.2 464.1,546.0 460.5,559.0 C456.9,572.0 450.9,583.8 445.5,591.2 C440.1,598.6 433.5,600.9 428.0,603.2 C422.5,605.5 417.8,605.0 412.4,605.0 C407.0,605.0 402.1,605.5 395.5,603.2 C388.9,600.9 380.5,597.8 373.0,591.2 C365.5,584.6 355.7,574.9 350.5,563.6 C345.3,552.3 341.3,538.5 342.1,523.1 C342.8,507.8 347.7,489.5 355.1,471.6 C362.5,453.7 377.6,429.9 386.4,415.9 C395.2,401.9 402.6,394.0 408.0,387.6 C413.4,381.3 415.5,379.9 418.6,377.8 C421.8,375.7 424.0,374.9 426.8,375.0 Z"/>
<path class="pore" d="M628.3,375.0 C630.4,375.1 632.8,375.7 634.6,377.5 C636.5,379.2 637.5,381.4 639.4,385.6 C641.4,389.8 643.2,393.2 646.2,402.6 C649.2,412.0 655.1,428.8 657.3,441.9 C659.5,455.0 659.9,468.8 659.5,481.2 C659.0,493.6 657.2,506.6 654.4,516.6 C651.6,526.6 647.0,535.7 642.8,541.4 C638.6,547.0 633.6,548.8 629.3,550.6 C625.0,552.4 621.4,552.0 617.2,552.0 C613.1,552.0 609.3,552.4 604.2,550.6 C599.1,548.8 592.6,546.5 586.8,541.4 C581.0,536.3 573.5,528.9 569.5,520.1 C565.5,511.4 562.4,500.8 563.0,489.0 C563.6,477.2 567.3,463.1 573.0,449.3 C578.7,435.6 590.4,417.3 597.2,406.5 C604.0,395.7 609.7,389.6 613.9,384.7 C618.0,379.8 619.6,378.7 622.1,377.1 C624.5,375.5 626.2,374.9 628.3,375.0 Z"/>
<!--R1:E-->
</g>
<circle cx="398.6" cy="397.1" r="372.3" fill="none" stroke="#996bb6" stroke-width="25.7"/>
</g>

<!-- ============ RIGHT 2 ============ -->
<g id="R2" transform="translate(505,245) scale(0.175)">
<circle cx="398.6" cy="399.4" r="372.3" fill="#fff"/>
<g clip-path="url(#cR2)">
<!--R2:S-->
<rect x="-20" y="383.6" width="840" height="460" fill="#f0afb8"/>
<path fill="#f6cbd1" d="M-20.0,432.0 C-9.5,433.0 22.5,432.0 43.0,438.0 C63.5,444.0 88.0,461.0 103.0,468.0 C118.0,475.0 118.5,479.7 133.0,480.0 C147.5,480.3 172.5,475.3 190.0,470.0 C207.5,464.7 225.0,454.2 238.0,448.0 C251.0,441.8 257.7,433.5 268.0,433.0 C278.3,432.5 290.0,440.0 300.0,445.0 C310.0,450.0 319.7,455.8 328.0,463.0 C336.3,470.2 334.7,486.8 350.0,488.0 C365.3,489.2 400.0,477.2 420.0,470.0 C440.0,462.8 456.7,450.8 470.0,445.0 C483.3,439.2 489.2,433.3 500.0,435.0 C510.8,436.7 524.2,447.5 535.0,455.0 C545.8,462.5 550.8,479.2 565.0,480.0 C579.2,480.8 603.3,466.7 620.0,460.0 C636.7,453.3 651.7,442.0 665.0,440.0 C678.3,438.0 689.2,443.8 700.0,448.0 C710.8,452.2 718.3,460.0 730.0,465.0 C741.7,470.0 755.0,477.2 770.0,478.0 C785.0,478.8 811.7,471.3 820.0,470.0 L820,820 L-20,820 Z"/>
<rect x="-20" y="366.5" width="840" height="17.5" fill="#aadcf4"/>
<rect x="-20" y="346" width="840" height="20.5" fill="#323232"/>
<path class="pore" d="M204.9,376.0 C207.3,376.1 209.9,376.8 211.9,378.8 C214.0,380.9 215.1,383.4 217.3,388.1 C219.4,392.9 221.5,396.9 224.8,407.6 C228.1,418.3 234.7,437.6 237.2,452.5 C239.6,467.5 240.1,483.3 239.6,497.5 C239.1,511.7 237.0,526.5 233.9,538.0 C230.9,549.5 225.7,559.9 221.1,566.4 C216.4,572.8 210.7,574.9 206.0,576.9 C201.3,578.9 197.2,578.5 192.6,578.5 C187.9,578.5 183.7,578.9 178.1,576.9 C172.4,574.9 165.1,572.2 158.7,566.4 C152.2,560.5 143.8,552.0 139.3,542.0 C134.9,532.1 131.4,519.9 132.1,506.4 C132.8,492.9 137.0,476.8 143.3,461.1 C149.7,445.3 162.6,424.4 170.2,412.0 C177.8,399.7 184.2,392.7 188.8,387.1 C193.4,381.5 195.2,380.3 197.9,378.4 C200.6,376.6 202.6,375.9 204.9,376.0 Z"/>
<path class="pore" d="M426.7,376.0 C429.5,376.1 432.6,377.0 435.0,379.3 C437.5,381.7 438.9,384.6 441.4,390.3 C444.0,395.9 446.5,400.5 450.4,413.1 C454.3,425.7 462.2,448.4 465.1,466.0 C468.1,483.6 468.6,502.1 468.0,518.8 C467.4,535.5 465.0,552.9 461.3,566.4 C457.6,579.9 451.5,592.1 445.9,599.7 C440.4,607.3 433.7,609.7 428.0,612.1 C422.3,614.5 417.5,614.0 412.0,614.0 C406.5,614.0 401.4,614.5 394.7,612.1 C388.0,609.7 379.4,606.5 371.7,599.7 C364.0,592.9 353.9,582.9 348.6,571.2 C343.4,559.4 339.2,545.1 340.0,529.3 C340.8,513.4 345.8,494.4 353.4,476.0 C360.9,457.5 376.4,432.8 385.4,418.4 C394.4,403.9 402.0,395.7 407.5,389.1 C413.0,382.5 415.2,381.0 418.4,378.9 C421.6,376.7 423.9,375.9 426.7,376.0 Z"/>
<path class="pore" d="M628.0,376.0 C630.2,376.1 632.5,376.7 634.4,378.5 C636.3,380.4 637.4,382.6 639.4,386.9 C641.4,391.2 643.3,394.7 646.3,404.4 C649.4,414.0 655.4,431.3 657.7,444.8 C660.0,458.3 660.4,472.4 659.9,485.2 C659.4,498.0 657.6,511.3 654.7,521.6 C651.9,531.9 647.1,541.3 642.9,547.1 C638.6,552.9 633.4,554.7 629.0,556.5 C624.6,558.4 620.9,558.0 616.6,558.0 C612.3,558.0 608.5,558.4 603.3,556.5 C598.1,554.7 591.4,552.3 585.4,547.1 C579.5,541.9 571.7,534.2 567.6,525.2 C563.5,516.3 560.3,505.3 560.9,493.2 C561.5,481.1 565.4,466.6 571.3,452.4 C577.1,438.3 589.1,419.5 596.0,408.4 C603.0,397.3 608.9,391.0 613.2,386.0 C617.4,381.0 619.1,379.9 621.6,378.2 C624.1,376.5 625.9,375.9 628.0,376.0 Z"/>
<g class="pur" style="stroke-width:12.5">
<path d="M268.6,200 V302 M237.6,274 L268.6,305 L299.6,274"/>
<path d="M409.5,200 V302 M378.5,274 L409.5,305 L440.5,274"/>
<path d="M549.5,200 V302 M518.5,274 L549.5,305 L580.5,274"/>
</g>
<!--R2:E-->
</g>
<circle cx="398.6" cy="399.4" r="372.3" fill="none" stroke="#996bb6" stroke-width="25.7"/>
</g>

<!-- ============ RIGHT 3 ============ -->
<g id="R3" transform="translate(505,427) scale(0.175)">
<circle cx="398.6" cy="400.6" r="372.3" fill="#fff"/>
<g clip-path="url(#cR3)">
<!--R3:S-->
<rect x="-20" y="384.0" width="840" height="460" fill="#f0afb8"/>
<path fill="#f9dde0" d="M-20.0,448.0 C-11.7,447.3 16.7,445.2 30.0,444.0 C43.3,442.8 50.7,441.8 60.0,441.0 C69.3,440.2 77.2,438.6 85.7,439.0 C94.2,439.4 103.1,443.3 111.0,443.4 C118.9,443.5 120.7,440.4 133.0,439.4 C145.3,438.4 169.7,435.7 185.0,437.4 C200.3,439.1 215.8,444.9 225.0,449.4 C234.2,453.9 234.7,458.6 240.0,464.4 C245.3,470.2 251.2,480.1 257.0,484.4 C262.8,488.7 269.3,490.1 275.0,490.4 C280.7,490.7 284.0,489.2 291.0,486.4 C298.0,483.6 308.3,477.6 317.0,473.4 C325.7,469.2 329.2,466.4 343.0,461.4 C356.8,456.4 381.3,444.4 400.0,443.4 C418.7,442.4 442.2,451.1 455.0,455.4 C467.8,459.7 470.5,464.4 477.0,469.4 C483.5,474.4 487.5,481.9 494.0,485.4 C500.5,488.9 508.3,490.7 516.0,490.4 C523.7,490.1 532.8,487.7 540.0,483.4 C547.2,479.1 551.5,470.4 559.0,464.4 C566.5,458.4 574.8,451.6 585.0,447.4 C595.2,443.2 609.2,439.7 620.0,439.4 C630.8,439.1 642.0,442.2 650.0,445.4 C658.0,448.6 661.3,452.9 668.0,458.4 C674.7,463.9 681.7,473.1 690.0,478.4 C698.3,483.7 708.8,489.2 718.0,490.4 C727.2,491.6 735.5,488.9 745.0,485.4 C754.5,481.9 762.5,473.9 775.0,469.4 C787.5,464.9 812.5,460.2 820.0,458.4 L820,820 L-20,820 Z"/>
<path fill="#f6cbd1" d="M-20.0,502.0 C-11.7,501.3 16.7,499.2 30.0,498.0 C43.3,496.8 50.7,495.8 60.0,495.0 C69.3,494.2 77.2,492.6 85.7,493.0 C94.2,493.4 103.1,497.3 111.0,497.4 C118.9,497.5 120.7,494.4 133.0,493.4 C145.3,492.4 169.7,489.7 185.0,491.4 C200.3,493.1 215.8,500.6 225.0,503.4 C234.2,506.2 234.7,504.2 240.0,508.4 C245.3,512.6 251.2,524.1 257.0,528.4 C262.8,532.7 269.3,534.1 275.0,534.4 C280.7,534.7 284.0,533.2 291.0,530.4 C298.0,527.6 308.3,521.6 317.0,517.4 C325.7,513.2 329.2,508.7 343.0,505.4 C356.8,502.1 381.3,498.4 400.0,497.4 C418.7,496.4 442.2,496.7 455.0,499.4 C467.8,502.1 470.5,508.4 477.0,513.4 C483.5,518.4 487.5,525.9 494.0,529.4 C500.5,532.9 508.3,534.7 516.0,534.4 C523.7,534.1 532.8,531.7 540.0,527.4 C547.2,523.1 551.5,512.7 559.0,508.4 C566.5,504.1 574.8,503.9 585.0,501.4 C595.2,498.9 609.2,493.7 620.0,493.4 C630.8,493.1 642.0,497.9 650.0,499.4 C658.0,500.9 661.3,498.6 668.0,502.4 C674.7,506.2 681.7,517.1 690.0,522.4 C698.3,527.7 708.8,533.2 718.0,534.4 C727.2,535.6 735.5,532.9 745.0,529.4 C754.5,525.9 762.5,517.9 775.0,513.4 C787.5,508.9 812.5,504.2 820.0,502.4 L820,820 L-20,820 Z"/>
<path stroke="#f9dde0" stroke-width="26" clip-path="url(#belowskin)" fill="#f9dde0" d="M204.7,379.0 C206.9,379.1 209.4,379.8 211.4,381.7 C213.3,383.6 214.5,386.0 216.5,390.6 C218.6,395.1 220.5,398.9 223.7,409.1 C226.9,419.3 233.2,437.7 235.6,452.0 C237.9,466.2 238.4,481.2 237.9,494.8 C237.4,508.4 235.4,522.5 232.5,533.4 C229.5,544.3 224.6,554.2 220.1,560.4 C215.7,566.6 210.2,568.5 205.7,570.5 C201.2,572.4 197.3,572.0 192.8,572.0 C188.4,572.0 184.3,572.4 178.9,570.5 C173.5,568.5 166.6,566.0 160.4,560.4 C154.2,554.9 146.1,546.8 141.8,537.3 C137.6,527.7 134.3,516.2 134.9,503.3 C135.5,490.4 139.6,475.0 145.7,460.1 C151.7,445.1 164.1,425.1 171.4,413.4 C178.7,401.6 184.8,395.0 189.2,389.6 C193.6,384.3 195.4,383.1 198.0,381.3 C200.5,379.5 202.4,378.9 204.7,379.0 Z"/>
<path stroke="#f9dde0" stroke-width="26" clip-path="url(#belowskin)" fill="#f9dde0" d="M426.8,378.5 C429.5,378.6 432.5,379.4 434.9,381.7 C437.3,384.0 438.6,386.9 441.1,392.3 C443.6,397.7 446.0,402.2 449.9,414.4 C453.7,426.6 461.4,448.4 464.2,465.4 C467.1,482.5 467.7,500.3 467.1,516.5 C466.4,532.7 464.1,549.5 460.5,562.5 C456.9,575.5 450.9,587.3 445.5,594.7 C440.1,602.1 433.5,604.4 428.0,606.7 C422.5,609.0 417.8,608.5 412.4,608.5 C407.0,608.5 402.1,609.0 395.5,606.7 C388.9,604.4 380.5,601.3 373.0,594.7 C365.5,588.1 355.7,578.4 350.5,567.1 C345.3,555.8 341.3,542.0 342.1,526.6 C342.8,511.3 347.7,493.0 355.1,475.1 C362.5,457.2 377.6,433.4 386.4,419.4 C395.2,405.4 402.6,397.5 408.0,391.1 C413.4,384.8 415.5,383.4 418.6,381.3 C421.8,379.2 424.0,378.4 426.8,378.5 Z"/>
<path stroke="#f9dde0" stroke-width="26" clip-path="url(#belowskin)" fill="#f9dde0" d="M628.3,378.5 C630.4,378.6 632.8,379.2 634.6,381.0 C636.5,382.7 637.5,384.9 639.4,389.1 C641.4,393.3 643.2,396.7 646.2,406.1 C649.2,415.5 655.1,432.3 657.3,445.4 C659.5,458.5 659.9,472.3 659.5,484.7 C659.0,497.1 657.2,510.1 654.4,520.1 C651.6,530.1 647.0,539.2 642.8,544.9 C638.6,550.5 633.6,552.3 629.3,554.1 C625.0,555.9 621.4,555.5 617.2,555.5 C613.1,555.5 609.3,555.9 604.2,554.1 C599.1,552.3 592.6,550.0 586.8,544.9 C581.0,539.8 573.5,532.4 569.5,523.6 C565.5,514.9 562.4,504.3 563.0,492.5 C563.6,480.7 567.3,466.6 573.0,452.8 C578.7,439.1 590.4,420.8 597.2,410.0 C604.0,399.2 609.7,393.1 613.9,388.2 C618.0,383.3 619.6,382.2 622.1,380.6 C624.5,379.0 626.2,378.4 628.3,378.5 Z"/>
<path fill="#fff" stroke="#fff" stroke-width="7" stroke-linejoin="round" d="M204.7,379.0 C206.9,379.1 209.4,379.8 211.4,381.7 C213.3,383.6 214.5,386.0 216.5,390.6 C218.6,395.1 220.5,398.9 223.7,409.1 C226.9,419.3 233.2,437.7 235.6,452.0 C237.9,466.2 238.4,481.2 237.9,494.8 C237.4,508.4 235.4,522.5 232.5,533.4 C229.5,544.3 224.6,554.2 220.1,560.4 C215.7,566.6 210.2,568.5 205.7,570.5 C201.2,572.4 197.3,572.0 192.8,572.0 C188.4,572.0 184.3,572.4 178.9,570.5 C173.5,568.5 166.6,566.0 160.4,560.4 C154.2,554.9 146.1,546.8 141.8,537.3 C137.6,527.7 134.3,516.2 134.9,503.3 C135.5,490.4 139.6,475.0 145.7,460.1 C151.7,445.1 164.1,425.1 171.4,413.4 C178.7,401.6 184.8,395.0 189.2,389.6 C193.6,384.3 195.4,383.1 198.0,381.3 C200.5,379.5 202.4,378.9 204.7,379.0 Z"/>
<path fill="#fff" stroke="#fff" stroke-width="7" stroke-linejoin="round" d="M426.8,378.5 C429.5,378.6 432.5,379.4 434.9,381.7 C437.3,384.0 438.6,386.9 441.1,392.3 C443.6,397.7 446.0,402.2 449.9,414.4 C453.7,426.6 461.4,448.4 464.2,465.4 C467.1,482.5 467.7,500.3 467.1,516.5 C466.4,532.7 464.1,549.5 460.5,562.5 C456.9,575.5 450.9,587.3 445.5,594.7 C440.1,602.1 433.5,604.4 428.0,606.7 C422.5,609.0 417.8,608.5 412.4,608.5 C407.0,608.5 402.1,609.0 395.5,606.7 C388.9,604.4 380.5,601.3 373.0,594.7 C365.5,588.1 355.7,578.4 350.5,567.1 C345.3,555.8 341.3,542.0 342.1,526.6 C342.8,511.3 347.7,493.0 355.1,475.1 C362.5,457.2 377.6,433.4 386.4,419.4 C395.2,405.4 402.6,397.5 408.0,391.1 C413.4,384.8 415.5,383.4 418.6,381.3 C421.8,379.2 424.0,378.4 426.8,378.5 Z"/>
<path fill="#fff" stroke="#fff" stroke-width="7" stroke-linejoin="round" d="M628.3,378.5 C630.4,378.6 632.8,379.2 634.6,381.0 C636.5,382.7 637.5,384.9 639.4,389.1 C641.4,393.3 643.2,396.7 646.2,406.1 C649.2,415.5 655.1,432.3 657.3,445.4 C659.5,458.5 659.9,472.3 659.5,484.7 C659.0,497.1 657.2,510.1 654.4,520.1 C651.6,530.1 647.0,539.2 642.8,544.9 C638.6,550.5 633.6,552.3 629.3,554.1 C625.0,555.9 621.4,555.5 617.2,555.5 C613.1,555.5 609.3,555.9 604.2,554.1 C599.1,552.3 592.6,550.0 586.8,544.9 C581.0,539.8 573.5,532.4 569.5,523.6 C565.5,514.9 562.4,504.3 563.0,492.5 C563.6,480.7 567.3,466.6 573.0,452.8 C578.7,439.1 590.4,420.8 597.2,410.0 C604.0,399.2 609.7,393.1 613.9,388.2 C618.0,383.3 619.6,382.2 622.1,380.6 C624.5,379.0 626.2,378.4 628.3,378.5 Z"/>
<path fill="none" stroke="#aadcf4" stroke-width="15" transform="translate(-1.5,3)" d="M80.0,172.0 C83.9,175.3 88.8,180.6 103.6,191.8 C118.4,203.0 145.3,225.1 168.6,239.3 C191.9,253.5 216.9,266.2 243.6,276.8 C270.3,287.4 307.3,297.0 328.6,303.0 C349.9,309.0 354.7,309.3 371.4,313.0 C388.1,316.7 411.9,321.2 428.6,325.0 C445.3,328.8 447.6,331.5 471.4,336.0 C495.2,340.5 538.1,347.9 571.4,351.8 C604.7,355.7 640.6,357.8 671.4,359.3 C702.2,360.8 735.0,360.7 756.4,361.0 C777.8,361.3 792.7,361.0 800.0,361.0"/>
<path fill="none" stroke="#323232" stroke-width="19" d="M90.0,158.0 C93.9,161.1 98.8,165.8 113.6,176.8 C128.4,187.9 155.3,210.1 178.6,224.3 C201.9,238.5 228.6,251.8 253.6,261.8 C278.6,271.8 309.0,279.3 328.6,284.3 C348.2,289.3 354.7,288.9 371.4,292.0 C388.1,295.1 411.9,299.7 428.6,303.0 C445.3,306.3 447.6,307.8 471.4,311.8 C495.2,315.8 538.1,323.1 571.4,326.8 C604.7,330.6 640.6,332.6 671.4,334.3 C702.2,336.0 735.0,336.6 756.4,337.0 C777.8,337.4 792.7,337.0 800.0,337.0"/>
<path fill="url(#poreg)" d="M232.6,269.2 C234.8,269.5 237.2,270.4 239.0,272.4 C240.8,274.4 241.7,276.8 243.3,281.4 C245.0,285.9 246.7,289.7 248.9,299.8 C251.2,309.9 255.9,328.0 257.1,341.9 C258.2,355.8 257.4,370.3 255.8,383.3 C254.1,396.3 251.0,409.6 247.2,419.9 C243.3,430.1 237.6,439.2 232.7,444.7 C227.7,450.3 222.2,451.7 217.5,453.1 C212.8,454.6 209.1,453.9 204.6,453.5 C200.2,453.1 196.2,453.1 191.0,450.8 C185.8,448.5 179.1,445.4 173.4,439.5 C167.8,433.7 160.4,425.2 157.0,415.7 C153.6,406.2 151.2,394.8 153.0,382.5 C154.7,370.2 160.0,355.8 167.3,341.9 C174.6,328.1 188.5,309.9 196.7,299.3 C204.9,288.7 211.5,282.8 216.4,278.1 C221.2,273.3 223.0,272.3 225.7,270.9 C228.4,269.4 230.4,269.0 232.6,269.2 Z"/>
<path fill="url(#poreg)" d="M442.7,333.2 C445.3,333.5 448.1,334.5 450.3,336.9 C452.4,339.3 453.5,342.1 455.5,347.6 C457.6,353.0 459.5,357.5 462.4,369.6 C465.3,381.7 471.1,403.5 472.7,420.2 C474.3,436.9 473.6,454.3 471.9,470.0 C470.2,485.7 466.9,501.8 462.5,514.2 C458.2,526.7 451.7,537.7 446.0,544.5 C440.3,551.3 433.8,553.1 428.4,555.0 C423.0,556.8 418.5,556.1 413.3,555.7 C408.1,555.3 403.4,555.5 397.3,552.8 C391.1,550.1 383.3,546.6 376.5,539.7 C369.8,532.8 361.0,522.7 356.9,511.3 C352.7,500.0 349.8,486.3 351.5,471.4 C353.3,456.6 359.3,439.1 367.5,422.3 C375.8,405.4 391.9,383.3 401.3,370.3 C410.6,357.3 418.3,350.1 423.9,344.3 C429.5,338.4 431.6,337.2 434.7,335.4 C437.9,333.5 440.1,333.0 442.7,333.2 Z"/>
<path fill="url(#poreg)" d="M640.5,356.8 C642.5,356.9 644.7,357.7 646.3,359.5 C648.0,361.3 648.9,363.4 650.5,367.6 C652.1,371.7 653.7,375.1 656.1,384.3 C658.4,393.5 663.2,410.0 664.7,422.7 C666.1,435.5 665.8,448.8 664.7,460.8 C663.7,472.8 661.3,485.1 658.1,494.7 C655.0,504.2 650.1,512.7 645.8,518.0 C641.6,523.2 636.7,524.7 632.5,526.2 C628.4,527.7 624.9,527.2 621.0,527.0 C617.0,526.8 613.4,526.9 608.6,524.9 C603.9,523.0 597.8,520.4 592.6,515.2 C587.3,510.0 580.4,502.5 577.1,493.8 C573.8,485.2 571.3,474.8 572.5,463.5 C573.6,452.1 578.0,438.7 584.1,425.7 C590.2,412.7 602.2,395.6 609.2,385.6 C616.2,375.5 622.0,369.9 626.2,365.4 C630.4,360.9 632.0,359.9 634.4,358.5 C636.8,357.0 638.5,356.6 640.5,356.8 Z"/>
<g class="pur" style="stroke-width:12.5">
<path d="M313.6,204.3 L346,101 M308.6,121.8 L345.5,97 L363.6,136.8"/>
<path d="M436.4,239.3 L466.4,134 M431.4,154.3 L467,129 L486.4,169.3"/>
<path d="M561.4,274.3 L591.4,172 M556.4,191.8 L592,167 L613.9,206.8"/>
</g>
<!--R3:E-->
</g>
<circle cx="398.6" cy="400.6" r="372.3" fill="none" stroke="#996bb6" stroke-width="25.7"/>
</g>

<!-- ============ RIGHT 4 ============ -->
<g id="R4" transform="translate(505,612) scale(0.175)">
<circle cx="398.6" cy="399.4" r="372.3" fill="#fff"/>
<g clip-path="url(#cR4)">
<!--R4:S-->
<rect x="-20" y="381.8" width="840" height="460" fill="#f0afb8"/>
<path fill="url(#derm)" d="M-20.0,486.0 C-9.4,486.5 25.5,487.2 43.6,489.0 C61.7,490.8 74.4,498.7 88.6,497.0 C102.8,495.3 116.9,487.5 128.6,479.0 C140.3,470.5 148.6,453.5 158.6,446.0 C168.6,438.5 181.1,436.0 188.6,434.0 C196.1,432.0 196.9,431.5 203.6,434.0 C210.3,436.5 219.4,442.3 228.6,449.0 C237.8,455.7 246.9,466.5 258.6,474.0 C270.3,481.5 286.9,490.7 298.6,494.0 C310.3,497.3 316.9,497.3 328.6,494.0 C340.3,490.7 356.9,481.8 368.6,474.0 C380.3,466.2 389.8,453.7 398.6,447.0 C407.4,440.3 414.3,436.2 421.4,434.0 C428.5,431.8 433.1,430.7 441.4,434.0 C449.7,437.3 460.6,445.7 471.4,454.0 C482.2,462.3 493.9,477.3 506.4,484.0 C518.9,490.7 533.9,494.0 546.4,494.0 C558.9,494.0 570.6,489.8 581.4,484.0 C592.2,478.2 601.4,466.5 611.4,459.0 C621.4,451.5 631.4,442.3 641.4,439.0 C651.4,435.7 661.4,435.7 671.4,439.0 C681.4,442.3 691.4,451.5 701.4,459.0 C711.4,466.5 723.1,478.2 731.4,484.0 C739.7,489.8 736.6,493.3 751.4,494.0 C766.2,494.7 808.6,489.0 820.0,488.0 L820,820 L-20,820 Z"/>
<path fill="#fff" d="M203.6,379.8 C203.3,388.2 202.4,414.3 202.0,430.0 C201.6,445.7 200.7,456.7 201.0,474.0 C201.3,491.3 204.4,518.7 203.6,534.0 C202.8,549.3 200.1,558.8 196.0,566.0 C191.9,573.2 184.5,577.7 179.0,577.0 C173.5,576.3 166.6,570.8 163.0,562.0 C159.4,553.2 157.1,538.7 157.6,524.0 C158.1,509.3 162.1,490.7 166.0,474.0 C169.9,457.3 176.8,439.7 181.0,424.0 C185.2,408.3 189.3,387.2 191.0,379.8 Z"/>
<path fill="#fff" d="M439.0,379.8 C438.8,388.2 438.4,414.3 438.0,430.0 C437.6,445.7 436.2,454.2 436.4,474.0 C436.6,493.8 439.4,529.0 439.0,549.0 C438.6,569.0 438.2,584.0 434.0,594.0 C429.8,604.0 420.8,610.3 414.0,609.3 C407.2,608.3 397.2,598.9 393.0,588.0 C388.8,577.1 387.6,560.5 389.0,544.0 C390.4,527.5 396.4,507.3 401.4,489.0 C406.4,470.7 414.4,452.2 419.0,434.0 C423.6,415.8 427.3,388.8 429.0,379.8 Z"/>
<path fill="#fff" d="M666.4,379.8 C666.2,388.2 665.4,414.3 665.0,430.0 C664.6,445.7 664.5,458.3 664.0,474.0 C663.5,489.7 663.2,512.3 662.0,524.0 C660.8,535.7 659.6,539.3 657.0,544.0 C654.4,548.7 650.6,552.7 646.4,552.0 C642.2,551.3 634.9,545.3 632.0,540.0 C629.1,534.7 628.7,529.3 629.0,520.0 C629.3,510.7 630.7,498.3 634.0,484.0 C637.3,469.7 645.3,451.4 649.0,434.0 C652.7,416.6 655.2,388.8 656.4,379.8 Z"/>
<g fill="#8f69b3">
<path d="M428.0,95.0 Q437.2,118.8 461.0,128.0 Q437.2,137.2 428.0,161.0 Q418.8,137.2 395.0,128.0 Q418.8,118.8 428.0,95.0 Z"/>
<path d="M308.0,174.0 Q321.4,208.6 356.0,222.0 Q321.4,235.4 308.0,270.0 Q294.6,235.4 260.0,222.0 Q294.6,208.6 308.0,174.0 Z"/>
<path d="M481.0,256.0 Q490.5,280.5 515.0,290.0 Q490.5,299.5 481.0,324.0 Q471.5,299.5 447.0,290.0 Q471.5,280.5 481.0,256.0 Z"/>
</g>
<!--R4:E-->
</g>
<circle cx="398.6" cy="399.4" r="372.3" fill="none" stroke="#996bb6" stroke-width="25.7"/>
</g>

</svg>
</body>
</html>
